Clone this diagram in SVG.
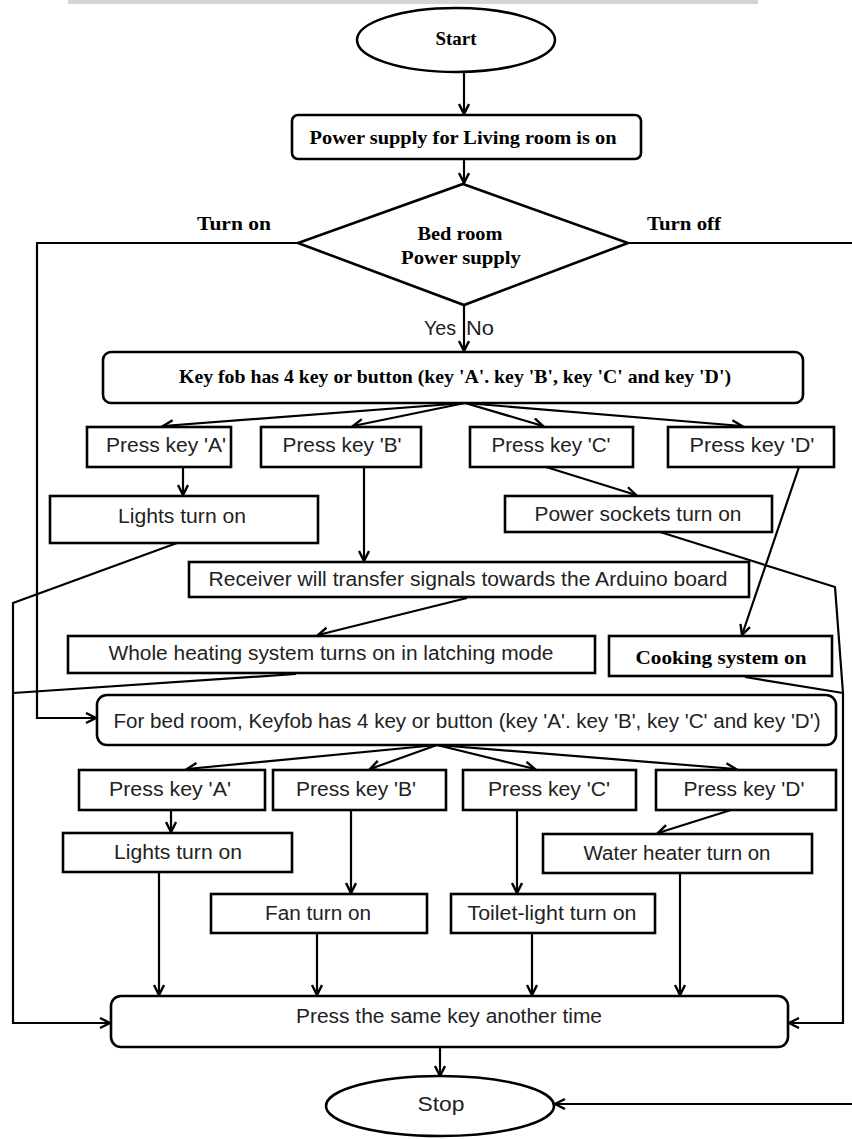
<svg xmlns="http://www.w3.org/2000/svg" width="852" height="1139" viewBox="0 0 852 1139">
<defs>
<marker id="ah" markerUnits="userSpaceOnUse" markerWidth="14" markerHeight="14" refX="11" refY="6" orient="auto">
<path d="M1,1 L11,6 L1,11" fill="none" stroke="#000" stroke-width="2.4"/>
</marker>
<style>
.box{fill:#fff;stroke:#000;stroke-width:2.6}
.ln{fill:none;stroke:#000;stroke-width:2.2}
.ar{fill:none;stroke:#000;stroke-width:2.2;marker-end:url(#ah)}
.sb{font-family:"Liberation Serif","Times New Roman",serif;font-weight:bold;font-size:19px;fill:#000;text-anchor:middle;dominant-baseline:central}
.ss{font-family:"Liberation Sans",Arial,sans-serif;font-size:20px;fill:#222;text-anchor:middle;dominant-baseline:central}
</style>
</defs>
<rect x="0" y="0" width="852" height="1139" fill="#fff"/>
<rect x="68" y="0" width="690" height="4" fill="#d4d4d4"/>

<g id="connectors">
<path class="ar" d="M464,72 L464,114"/>
<path class="ar" d="M464,159 L464,183"/>
<path class="ar" d="M464,305 L464,351"/>
<path class="ar" d="M298,243 L37,243 L37,718 L96,718"/>
<path class="ln" d="M628,243 L852,243"/>
<path class="ar" d="M465,403 L163,426"/>
<path class="ar" d="M465,403 L353,426"/>
<path class="ar" d="M465,403 L543,426"/>
<path class="ar" d="M465,403 L742,426"/>
<path class="ar" d="M183,467 L183,495"/>
<path class="ar" d="M364,467 L364,561"/>
<path class="ar" d="M546,467 L636,495"/>
<path class="ar" d="M799,467 L742,635"/>
<path class="ar" d="M177,543 L13,603 L13,1023 L110,1023"/>
<path class="ar" d="M660,532 L835,587 L843,693 L843,1023 L789,1023"/>
<path class="ar" d="M467,598 L318,635"/>
<path class="ln" d="M296,674 L13,693"/>
<path class="ln" d="M745,677 L843,693"/>
<path class="ar" d="M437,745 L187,769"/>
<path class="ar" d="M437,745 L370,769"/>
<path class="ar" d="M437,745 L535,769"/>
<path class="ar" d="M437,745 L736,769"/>
<path class="ar" d="M171,810 L171,832"/>
<path class="ar" d="M351,810 L351,893"/>
<path class="ar" d="M517,810 L517,893"/>
<path class="ar" d="M731,810 L658,833"/>
<path class="ar" d="M159,872 L159,995"/>
<path class="ar" d="M317,933 L317,995"/>
<path class="ar" d="M532,933 L532,995"/>
<path class="ar" d="M680,873 L680,995"/>
<path class="ar" d="M440,1047 L440,1076"/>
<path class="ar" d="M852,1104 L555,1104"/>
</g>

<g id="labels">
<text class="sb" x="234" y="223" textLength="74" lengthAdjust="spacingAndGlyphs">Turn on</text>
<text class="sb" x="684" y="223" textLength="74" lengthAdjust="spacingAndGlyphs">Turn off</text>
<text class="ss" x="440" y="328" font-size="17" textLength="32" lengthAdjust="spacingAndGlyphs">Yes</text>
<text class="ss" x="480" y="328" font-size="17" textLength="28" lengthAdjust="spacingAndGlyphs">No</text>
</g>

<g id="start">
<ellipse class="box" cx="456" cy="40" rx="99" ry="32"/>
<text class="sb" x="456" y="38" textLength="41" lengthAdjust="spacingAndGlyphs">Start</text>
</g>
<g id="power-living">
<rect class="box" x="292" y="115" width="349" height="44" rx="6"/>
<text class="sb" x="463" y="137" textLength="307" lengthAdjust="spacingAndGlyphs">Power supply for Living room is on</text>
</g>
<g id="bedroom-decision">
<polygon class="box" points="463,184 628,243 464,305 298,243"/>
<text class="sb" x="460" y="233" textLength="85" lengthAdjust="spacingAndGlyphs">Bed room</text>
<text class="sb" x="461" y="257" textLength="120" lengthAdjust="spacingAndGlyphs">Power supply</text>
</g>
<g id="keyfob">
<rect class="box" x="103" y="352" width="700" height="51" rx="8"/>
<text class="sb" x="455" y="376" font-size="18" textLength="552" lengthAdjust="spacingAndGlyphs">Key fob has 4 key or button (key 'A'. key 'B', key 'C' and key 'D')</text>
</g>
<g id="press-a1">
<rect class="box" x="87" y="427" width="144" height="40"/>
<text class="ss" x="166" y="445" textLength="120" lengthAdjust="spacingAndGlyphs">Press key 'A'</text>
</g>
<g id="press-b1">
<rect class="box" x="261" y="427" width="160" height="40"/>
<text class="ss" x="342" y="445" textLength="119" lengthAdjust="spacingAndGlyphs">Press key 'B'</text>
</g>
<g id="press-c1">
<rect class="box" x="470" y="427" width="163" height="40"/>
<text class="ss" x="551" y="445" textLength="119" lengthAdjust="spacingAndGlyphs">Press key 'C'</text>
</g>
<g id="press-d1">
<rect class="box" x="668" y="427" width="166" height="40"/>
<text class="ss" x="752" y="445" textLength="125" lengthAdjust="spacingAndGlyphs">Press key 'D'</text>
</g>
<g id="lights1">
<rect class="box" x="50" y="496" width="268" height="47"/>
<text class="ss" x="182" y="516" textLength="128" lengthAdjust="spacingAndGlyphs">Lights turn on</text>
</g>
<g id="sockets">
<rect class="box" x="505" y="496" width="267" height="36"/>
<text class="ss" x="638" y="514" textLength="207" lengthAdjust="spacingAndGlyphs">Power sockets turn on</text>
</g>
<g id="receiver">
<rect class="box" x="189" y="562" width="560" height="35"/>
<text class="ss" x="468" y="579" textLength="519" lengthAdjust="spacingAndGlyphs">Receiver will transfer signals towards the Arduino board</text>
</g>
<g id="heating">
<rect class="box" x="68" y="636" width="527" height="37"/>
<text class="ss" x="331" y="653" textLength="445" lengthAdjust="spacingAndGlyphs">Whole heating system turns on in latching mode</text>
</g>
<g id="cooking">
<rect class="box" x="609" y="636" width="223" height="40"/>
<text class="sb" x="721" y="657" textLength="171" lengthAdjust="spacingAndGlyphs">Cooking system on</text>
</g>
<g id="bedroom-keyfob">
<rect class="box" x="97" y="695" width="739" height="50" rx="10"/>
<text class="ss" x="467" y="721" textLength="707" lengthAdjust="spacingAndGlyphs">For bed room, Keyfob has 4 key or button (key 'A'. key 'B', key 'C' and key 'D')</text>
</g>
<g id="press-a2">
<rect class="box" x="79" y="770" width="186" height="40"/>
<text class="ss" x="170" y="789" textLength="122" lengthAdjust="spacingAndGlyphs">Press key 'A'</text>
</g>
<g id="press-b2">
<rect class="box" x="273" y="770" width="173" height="40"/>
<text class="ss" x="356" y="789" textLength="120" lengthAdjust="spacingAndGlyphs">Press key 'B'</text>
</g>
<g id="press-c2">
<rect class="box" x="463" y="770" width="173" height="40"/>
<text class="ss" x="549" y="789" textLength="122" lengthAdjust="spacingAndGlyphs">Press key 'C'</text>
</g>
<g id="press-d2">
<rect class="box" x="656" y="770" width="180" height="40"/>
<text class="ss" x="744" y="789" textLength="121" lengthAdjust="spacingAndGlyphs">Press key 'D'</text>
</g>
<g id="lights2">
<rect class="box" x="63" y="833" width="229" height="39"/>
<text class="ss" x="178" y="852" textLength="128" lengthAdjust="spacingAndGlyphs">Lights turn on</text>
</g>
<g id="water-heater">
<rect class="box" x="543" y="834" width="269" height="39"/>
<text class="ss" x="677" y="853" textLength="187" lengthAdjust="spacingAndGlyphs">Water heater turn on</text>
</g>
<g id="fan">
<rect class="box" x="211" y="894" width="216" height="39"/>
<text class="ss" x="318" y="913" textLength="106" lengthAdjust="spacingAndGlyphs">Fan turn on</text>
</g>
<g id="toilet">
<rect class="box" x="451" y="894" width="204" height="39"/>
<text class="ss" x="552" y="913" textLength="169" lengthAdjust="spacingAndGlyphs">Toilet-light turn on</text>
</g>
<g id="press-same">
<rect class="box" x="111" y="996" width="677" height="51" rx="10"/>
<text class="ss" x="449" y="1016" textLength="306" lengthAdjust="spacingAndGlyphs">Press the same key another time</text>
</g>
<g id="stop">
<ellipse class="box" cx="440" cy="1106" rx="114" ry="30"/>
<text class="ss" x="441" y="1104" textLength="47" lengthAdjust="spacingAndGlyphs">Stop</text>
</g>
</svg>
